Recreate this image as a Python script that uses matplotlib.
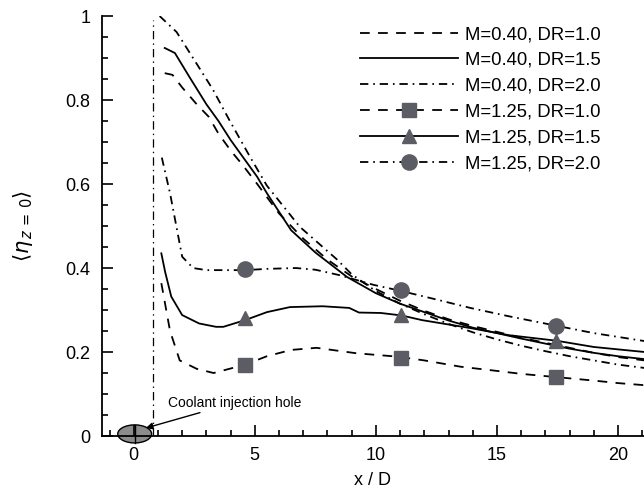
import numpy as np
import matplotlib
matplotlib.use("Agg")
import matplotlib.pyplot as plt
from matplotlib.lines import Line2D
from matplotlib.patches import Ellipse
from matplotlib.ticker import MultipleLocator

plt.rcParams['font.family'] = ['Liberation Sans', 'DejaVu Sans']
plt.rcParams['lines.scale_dashes'] = False

# M=0.40 series
x_040_10 = [1.28, 1.6, 2.0, 2.6, 3.1, 3.5, 4.0, 4.5, 5.1, 6.0, 7.0, 8.0, 9.0, 10.0,
            11.0, 12.0, 13.0, 14.0, 15.0, 16.0, 17.0, 18.0, 19.0, 20.0, 21.1]
y_040_10 = [0.864, 0.86, 0.83, 0.79, 0.76, 0.72, 0.68, 0.645, 0.60, 0.53, 0.47, 0.42,
            0.38, 0.35, 0.322, 0.298, 0.278, 0.262, 0.248, 0.234, 0.222, 0.21, 0.198,
            0.188, 0.18]

x_040_15 = [1.28, 1.7, 2.3, 3.0, 3.5, 4.0, 5.1, 5.5, 6.5, 7.5, 8.8, 10, 11, 12, 13,
            14, 15, 16, 17, 18, 19, 20, 21.1]
y_040_15 = [0.924, 0.912, 0.855, 0.79, 0.75, 0.705, 0.617, 0.578, 0.49, 0.437, 0.379,
            0.34, 0.315, 0.295, 0.275, 0.258, 0.245, 0.232, 0.22, 0.208, 0.198, 0.19,
            0.183]

x_040_20 = [1.07, 1.77, 2.45, 3.27, 3.97, 4.8, 5.5, 6.86, 8.4, 9.0, 10, 11, 12, 13,
            14, 15, 16, 17, 18, 19, 20, 21.1]
y_040_20 = [1.0, 0.962, 0.90, 0.825, 0.75, 0.665, 0.596, 0.498, 0.42, 0.385, 0.345,
            0.315, 0.29, 0.267, 0.247, 0.23, 0.215, 0.202, 0.19, 0.18, 0.17, 0.162]

# M=1.25 series
x_125_10 = [1.14, 1.5, 1.9, 2.6, 3.3, 4.6, 5.5, 6.5, 7.55, 9.2, 10.9, 12, 13.5, 15,
            16, 17.5, 19, 20, 21.1]
y_125_10 = [0.364, 0.25, 0.18, 0.16, 0.15, 0.17, 0.19, 0.205, 0.21, 0.197, 0.189,
            0.18, 0.165, 0.155, 0.148, 0.14, 0.132, 0.126, 0.121]

x_125_15 = [1.14, 1.3, 1.55, 2.0, 2.7, 3.4, 3.7, 4.6, 5.5, 6.45, 7.8, 8.9, 9.3, 10.2,
            11.07, 11.9, 13.9, 15.5, 17.45, 19, 21.1]
y_125_15 = [0.435, 0.39, 0.332, 0.288, 0.268, 0.26, 0.26, 0.276, 0.295, 0.307, 0.309,
            0.305, 0.294, 0.293, 0.287, 0.276, 0.257, 0.24, 0.227, 0.212, 0.2]

x_125_20 = [1.16, 1.5, 2.0, 2.45, 3.0, 4.6, 5.5, 6.7, 7.5, 8.5, 9.9, 11.07, 12.5,
            13.9, 15.5, 17.5, 19, 21.1]
y_125_20 = [0.663, 0.578, 0.427, 0.40, 0.395, 0.395, 0.398, 0.40, 0.396, 0.383, 0.36,
            0.345, 0.325, 0.305, 0.285, 0.262, 0.245, 0.226]

# marker points of the M=1.25 curves
mk_x = [4.6, 11.05, 17.45]
mk_125_10 = [0.17, 0.185, 0.14]
mk_125_15 = [0.28, 0.287, 0.227]
mk_125_20 = [0.397, 0.347, 0.262]

labels = ['M=0.40, DR=1.0', 'M=0.40, DR=1.5', 'M=0.40, DR=2.0',
          'M=1.25, DR=1.0', 'M=1.25, DR=1.5', 'M=1.25, DR=2.0']

dashed = (0, (7, 6))
dashdot = (0, (6, 3.5, 1.2, 3.5))
grey = '#5c5c64'
lw = 1.3

fig = plt.figure(figsize=(6.44, 4.97), dpi=100)
ax = fig.add_axes([0.158, 0.1227, 0.842, 0.845])

ax.plot(x_040_10, y_040_10, color='k', lw=lw, ls=dashed)
ax.plot(x_040_15, y_040_15, color='k', lw=lw, ls='-')
ax.plot(x_040_20, y_040_20, color='k', lw=lw, ls=dashdot)
ax.plot(x_125_10, y_125_10, color='k', lw=lw, ls=dashed)
ax.plot(x_125_15, y_125_15, color='k', lw=lw, ls='-')
ax.plot(x_125_20, y_125_20, color='k', lw=lw, ls=dashdot)
ax.plot(mk_x, mk_125_10, ls='none', marker='s', ms=9.5, color=grey, zorder=4)
ax.plot(mk_x, mk_125_15, ls='none', marker='^', ms=10.5, color=grey, zorder=4)
ax.plot(mk_x, mk_125_20, ls='none', marker='o', ms=11, color=grey, zorder=4)

# injection hole edge and hole sketch
ax.plot([0.8, 0.8], [0, 0.99], color='k', lw=0.9, ls=(0, (6, 3, 1, 3)))
hole = Ellipse((0.04, 0.005), 1.4, 0.043, facecolor='#8c8c8c', edgecolor='k',
               lw=1.0, clip_on=False, zorder=1)
ax.add_patch(hole)
ax.plot([0.04, 0.04], [-0.016, 0.026], color='k', lw=1.0, clip_on=False, zorder=1)
ax.annotate('Coolant injection hole', xy=(0.5, 0.019), xytext=(1.4, 0.079),
            fontsize=10, va='center', ha='left',
            arrowprops=dict(arrowstyle='-|>', color='k', lw=1.0,
                            mutation_scale=10, shrinkA=0, shrinkB=0))

handles = [
    Line2D([], [], color='k', lw=lw, ls=dashed),
    Line2D([], [], color='k', lw=lw, ls='-'),
    Line2D([], [], color='k', lw=lw, ls=dashdot),
    Line2D([], [], color='k', lw=lw, ls=dashed, marker='s', ms=9.5, mfc=grey, mec=grey),
    Line2D([], [], color='k', lw=lw, ls='-', marker='^', ms=10.5, mfc=grey, mec=grey),
    Line2D([], [], color='k', lw=lw, ls=dashdot, marker='o', ms=11, mfc=grey, mec=grey),
]
ax.legend(handles, labels, loc='upper right', frameon=False, fontsize=13.3,
          handlelength=5.3, handletextpad=0.38, labelspacing=0.48, borderpad=0,
          borderaxespad=0, numpoints=1,
          bbox_to_anchor=(601 / 644, (497 - 26) / 497),
          bbox_transform=fig.transFigure)

ax.set_xlim(-1.32, 21.07)
ax.set_ylim(0, 1)
ax.xaxis.set_major_locator(MultipleLocator(5))
ax.xaxis.set_minor_locator(MultipleLocator(1))
ax.yaxis.set_major_locator(MultipleLocator(0.2))
ax.yaxis.set_minor_locator(MultipleLocator(0.05))
ax.set_yticks([0, 0.2, 0.4, 0.6, 0.8, 1.0])
ax.set_yticklabels(['0', '0.2', '0.4', '0.6', '0.8', '1'])
ax.tick_params(which='both', direction='in', labelsize=13, width=1.2)
ax.tick_params(which='major', length=8, pad=8)
ax.tick_params(which='minor', length=4)
for s in ['top', 'right']:
    ax.spines[s].set_visible(False)
for s in ['left', 'bottom']:
    ax.spines[s].set_linewidth(1.3)

ax.set_xlabel('x / D', fontsize=13, labelpad=6)
ax.set_ylabel(r'$\langle\eta_{\,z\,=\,0}\rangle$', fontsize=15, labelpad=22)

fig.savefig('out.png', dpi=100)
